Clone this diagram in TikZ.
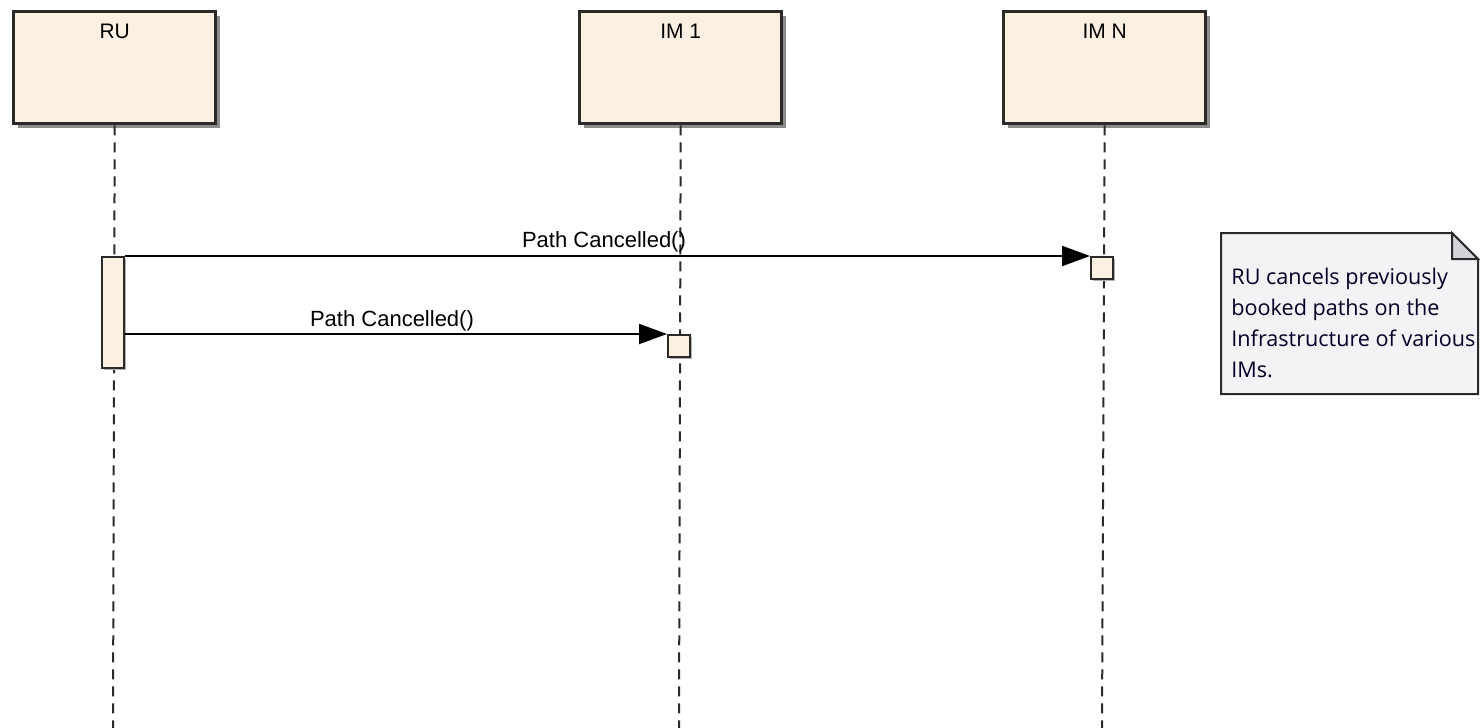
\documentclass[tikz,border=0pt]{standalone}
\usepackage{fontspec}
\setmainfont{Liberation Sans}
\newfontfamily\notefont{Open Sans}
\usetikzlibrary{arrows.meta,shadows,positioning}
\definecolor{boxfill}{HTML}{FBF0E1}
\definecolor{notefill}{HTML}{F5F2F6}
\definecolor{foldfill}{HTML}{D4D2D8}
\definecolor{edge}{HTML}{2A2A2A}
\begin{document}
\begin{tikzpicture}[x=0.5pt,y=-0.5pt,
  lifebox/.style={draw=edge,line width=1.7pt,fill=boxfill,minimum width=101pt,minimum height=56pt,
    inner sep=0pt,anchor=north west,drop shadow={shadow xshift=2.2pt,shadow yshift=-2.2pt,fill=black!45,opacity=1}},
  lifetitle/.style={font=\fontsize{10.5}{13}\selectfont,anchor=north,inner sep=0pt},
  lifeline/.style={draw=edge,line width=1pt,dash pattern=on 5pt off 3.5pt},
  actbox/.style={draw=edge,line width=1pt,fill=boxfill,inner sep=0pt,minimum width=11pt,
    drop shadow={shadow xshift=1pt,shadow yshift=-1pt,fill=black!30,opacity=1}},
  msg/.style={draw=black,line width=1pt,-{Triangle[length=14pt,width=10pt]}},
  msglabel/.style={font=\fontsize{11}{13}\selectfont,inner sep=0pt,anchor=base}
]
\useasboundingbox (0,0) rectangle (1480,728);
% lifeline heads
\node[lifebox] (ru) at (12,10) {};
\node[lifebox] (im1) at (578,10) {};
\node[lifebox] (imn) at (1002,10) {};
\node[lifetitle] (rut) at ([yshift=-7pt]ru.north) {RU};
\node[lifetitle] (im1t) at ([yshift=-7pt]im1.north) {IM 1};
\node[lifetitle] (imnt) at ([yshift=-7pt]imn.north) {IM N};
% lifeline ends
\coordinate (ruend) at (113,728);
\coordinate (im1end) at (679,728);
\coordinate (imnend) at (1102,728);
\path[lifeline] (ru.south) -- (ruend);
\path[lifeline] (im1.south) -- (im1end);
\path[lifeline] (imn.south) -- (imnend);
% activations
\node[actbox,minimum height=55.5pt,anchor=north] (ruact) at (113,256) {};
\node[actbox,minimum height=11pt,anchor=north] (imnact) at (1102,256) {};
\node[actbox,minimum height=11pt,anchor=north] (im1act) at (679,334) {};
% messages
\draw[msg] (ruact.north east) -- (imnact.north west);
\draw[msg] (ruact.east |- im1act.north) -- (im1act.north west);
\node[msglabel] (l1) at (604,247) {Path Cancelled()};
\node[msglabel] (l2) at (392,326) {Path Cancelled()};
% note
\coordinate (nw) at (1221,233);
\coordinate (fa) at (1452,233);
\coordinate (fb) at (1478,259);
\coordinate (se) at (1478,394);
\fill[black!45] ([xshift=2pt,yshift=-2pt]nw |- se) ++(2,0) rectangle ([xshift=2pt,yshift=-2pt]se);
\fill[black!45] ([xshift=2pt,yshift=-2pt]fb) rectangle ([xshift=2pt,yshift=-2pt]se);
\draw[draw=edge,line width=1pt,fill=notefill] (nw) -- (fa) -- (fb) -- (se) -- (nw |- se) -- cycle;
\draw[draw=edge,line width=1pt,fill=foldfill] (fa) -- (fb) -- (fa |- fb) -- cycle;
\node[anchor=north west,align=left,inner sep=0pt,font=\notefont\fontsize{10.8}{15.5}\selectfont,text=black!85!blue] (notetext) at (1231,268)
 {RU cancels previously\\booked paths on the\\Infrastructure of various\\IMs.};
\end{tikzpicture}
\end{document}
